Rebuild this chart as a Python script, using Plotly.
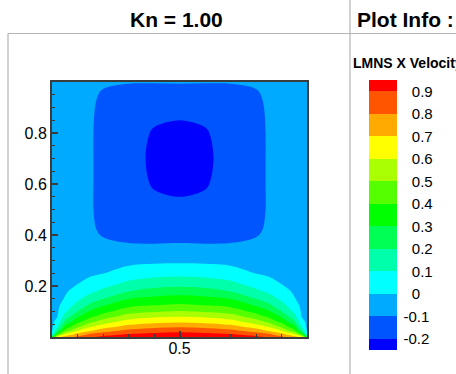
import plotly.graph_objects as go

# Grid coordinates (x across, y up)
x_vals = [0, 0.02, 0.05, 0.1, 0.15, 0.2, 0.3, 0.4, 0.5, 0.6, 0.7, 0.8, 0.85, 0.9, 0.95, 0.98, 1.0]
y_vals = [0, 0.01, 0.025, 0.04, 0.06, 0.08, 0.1, 0.125, 0.15, 0.18, 0.21, 0.25, 0.29,
          0.33, 0.37, 0.42, 0.5, 0.6, 0.7, 0.8, 0.9, 0.95, 1.0]

# LMNS X Velocity, one row per y value
u_vel = [
    [0.30, 0.65, 0.74, 0.82, 0.885, 0.925, 0.945, 0.96, 0.97, 0.96, 0.945, 0.925, 0.885, 0.82, 0.74, 0.65, 0.30],
    [0.05, 0.405, 0.619, 0.74, 0.82, 0.865, 0.91, 0.928, 0.937, 0.928, 0.91, 0.865, 0.82, 0.74, 0.619, 0.405, 0.05],
    [-0.01, 0.186, 0.433, 0.598, 0.69, 0.755, 0.825, 0.86, 0.876, 0.86, 0.825, 0.755, 0.69, 0.598, 0.433, 0.186, -0.01],
    [-0.02, 0.088, 0.328, 0.479, 0.595, 0.656, 0.738, 0.774, 0.789, 0.774, 0.738, 0.656, 0.595, 0.479, 0.328, 0.088, -0.02],
    [-0.025, 0.038, 0.213, 0.37, 0.474, 0.546, 0.639, 0.671, 0.683, 0.671, 0.639, 0.546, 0.474, 0.37, 0.213, 0.038, -0.025],
    [-0.03, -0.005, 0.134, 0.29, 0.381, 0.448, 0.547, 0.585, 0.598, 0.585, 0.547, 0.448, 0.381, 0.29, 0.134, -0.005, -0.03],
    [-0.035, -0.015, 0.083, 0.204, 0.313, 0.371, 0.46, 0.492, 0.509, 0.492, 0.46, 0.371, 0.313, 0.204, 0.083, -0.015, -0.035],
    [-0.04, -0.025, 0.045, 0.131, 0.222, 0.289, 0.371, 0.397, 0.412, 0.397, 0.371, 0.289, 0.222, 0.131, 0.045, -0.025, -0.04],
    [-0.045, -0.035, 0.006, 0.08, 0.146, 0.198, 0.298, 0.328, 0.341, 0.328, 0.298, 0.198, 0.146, 0.08, 0.006, -0.035, -0.045],
    [-0.05, -0.04, -0.015, 0.037, 0.078, 0.119, 0.197, 0.235, 0.25, 0.235, 0.197, 0.119, 0.078, 0.037, -0.015, -0.04, -0.05],
    [-0.05, -0.045, -0.03, -0.003, 0.03, 0.062, 0.12, 0.15, 0.162, 0.15, 0.12, 0.062, 0.03, -0.003, -0.03, -0.045, -0.05],
    [-0.05, -0.045, -0.04, -0.025, -0.015, -0.002, 0.043, 0.064, 0.071, 0.064, 0.043, -0.002, -0.015, -0.025, -0.04, -0.045, -0.05],
    [-0.05, -0.05, -0.045, -0.04, -0.035, -0.03, -0.015, -0.005, -0.002, -0.005, -0.015, -0.03, -0.035, -0.04, -0.045, -0.05, -0.05],
    [-0.05, -0.05, -0.05, -0.045, -0.05, -0.05, -0.055, -0.055, -0.05, -0.055, -0.055, -0.05, -0.05, -0.045, -0.05, -0.05, -0.05],
    [-0.05, -0.05, -0.05, -0.05, -0.06, -0.085, -0.102, -0.105, -0.102, -0.105, -0.102, -0.085, -0.06, -0.05, -0.05, -0.05, -0.05],
    [-0.05, -0.05, -0.05, -0.05, -0.08, -0.12, -0.125, -0.13, -0.13, -0.13, -0.125, -0.12, -0.08, -0.05, -0.05, -0.05, -0.05],
    [-0.05, -0.05, -0.05, -0.05, -0.09, -0.13, -0.14, -0.165, -0.17, -0.165, -0.14, -0.13, -0.09, -0.05, -0.05, -0.05, -0.05],
    [-0.05, -0.05, -0.05, -0.05, -0.09, -0.13, -0.15, -0.21, -0.23, -0.21, -0.15, -0.13, -0.09, -0.05, -0.05, -0.05, -0.05],
    [-0.05, -0.05, -0.05, -0.05, -0.09, -0.13, -0.15, -0.225, -0.26, -0.225, -0.15, -0.13, -0.09, -0.05, -0.05, -0.05, -0.05],
    [-0.05, -0.05, -0.05, -0.05, -0.09, -0.13, -0.15, -0.21, -0.23, -0.21, -0.15, -0.13, -0.09, -0.05, -0.05, -0.05, -0.05],
    [-0.05, -0.05, -0.05, -0.05, -0.085, -0.125, -0.14, -0.165, -0.17, -0.165, -0.14, -0.125, -0.085, -0.05, -0.05, -0.05, -0.05],
    [-0.05, -0.05, -0.05, -0.05, -0.075, -0.115, -0.125, -0.125, -0.125, -0.125, -0.125, -0.115, -0.075, -0.05, -0.05, -0.05, -0.05],
    [-0.05, -0.05, -0.05, -0.05, -0.06, -0.082, -0.096, -0.097, -0.096, -0.097, -0.096, -0.082, -0.06, -0.05, -0.05, -0.05, -0.05],
]

levels = [-0.2, -0.1, 0, 0.1, 0.2, 0.3, 0.4, 0.5, 0.6, 0.7, 0.8, 0.9]
level_labels = ["-0.2", "-0.1", "0", "0.1", "0.2", "0.3", "0.4", "0.5", "0.6", "0.7", "0.8", "0.9"]
band_colors = ["#0000FF", "#0055FF", "#00AAFF", "#00FFFF", "#00FFAA", "#00FF55", "#00FF00",
               "#55FF00", "#AAFF00", "#FFFF00", "#FFAA00", "#FF5500", "#FF0000"]

x_tickvals = [0.5]
x_ticktext = ["0.5"]
y_tickvals = [0.2, 0.4, 0.6, 0.8]
y_ticktext = ["0.2", "0.4", "0.6", "0.8"]

FONT = "Liberation Sans, Arial, sans-serif"
W, H = 456, 374
L, R, T, B = 52, 307, 82, 337


def px(xp):
    return (xp - L) / (R - L)


def py(yp):
    return (B - yp) / (B - T)


n = len(band_colors) - 1
colorscale = [[i / n, c] for i, c in enumerate(band_colors)]
# align non-negative labels with the digits of negative ones (minus sign hangs left)
cb_text = [t if t.startswith("-") else "\u2007" + t for t in level_labels]

fig = go.Figure(go.Contour(
    x=x_vals, y=y_vals, z=u_vel,
    autocontour=False,
    contours=dict(start=levels[0], end=levels[-1], size=0.1, coloring="fill", showlines=False),
    line=dict(width=0, smoothing=1.0),
    colorscale=colorscale,
    colorbar=dict(
        x=px(369), xanchor="left", xpad=0,
        y=py(215), yanchor="middle", ypad=0,
        len=270, lenmode="pixels",
        thickness=28, thicknessmode="pixels",
        outlinewidth=0,
        tickmode="array", tickvals=levels, ticktext=cb_text,
        ticks="outside", ticklen=4, tickcolor="rgba(0,0,0,0)",
        tickfont=dict(family=FONT, size=15, color="black"),
    ),
))

axis_common = dict(
    showline=True, linecolor="#3c3c3c", linewidth=2, mirror=True,
    ticks="inside", tickcolor="#3c3c3c", tickwidth=1.5, ticklen=6,
    showgrid=False, zeroline=False,
    tickfont=dict(family=FONT, size=16, color="black"),
)

fig.update_xaxes(range=[0, 1], tickmode="array", tickvals=x_tickvals, ticktext=x_ticktext,
                 ticklabelstandoff=-4,
                 minor=dict(dtick=0.1, tick0=0, ticks="inside", ticklen=3, tickcolor="#3c3c3c", tickwidth=1),
                 **axis_common)
fig.update_yaxes(range=[0, 1], tickmode="array", tickvals=y_tickvals, ticktext=y_ticktext,
                 minor=dict(dtick=0.05, tick0=0, ticks="inside", ticklen=3, tickcolor="#3c3c3c", tickwidth=1),
                 **axis_common)

frame_color = "#b4b4b4"
shapes = [
    dict(type="line", xref="paper", yref="paper", x0=px(8), x1=px(460), y0=py(33.5), y1=py(33.5),
         line=dict(color=frame_color, width=1.2)),
    dict(type="line", xref="paper", yref="paper", x0=px(350), x1=px(350), y0=py(-2), y1=py(376),
         line=dict(color=frame_color, width=1.2)),
    dict(type="line", xref="paper", yref="paper", x0=px(8), x1=px(8), y0=py(33.5), y1=py(376),
         line=dict(color=frame_color, width=1.2)),
]

annotations = [
    dict(text="<b>Kn = 1.00</b>", xref="paper", yref="paper", x=px(176), y=py(19),
         xanchor="center", yanchor="middle", showarrow=False,
         font=dict(family=FONT, size=21, color="black")),
    dict(text="<b>Plot Info :</b>", xref="paper", yref="paper", x=px(355), y=py(19),
         xanchor="left", yanchor="middle", showarrow=False,
         font=dict(family=FONT, size=21, color="black")),
    dict(text="<b>LMNS X Velocity</b>", xref="paper", yref="paper", x=px(351), y=py(63),
         xanchor="left", yanchor="middle", showarrow=False,
         font=dict(family=FONT, size=14, color="black")),
]

fig.update_layout(
    width=W, height=H,
    margin=dict(l=L, r=W - R, t=T, b=H - B, pad=0),
    paper_bgcolor="white", plot_bgcolor="white",
    shapes=shapes, annotations=annotations,
    showlegend=False,
)

fig.write_html("out.html")
